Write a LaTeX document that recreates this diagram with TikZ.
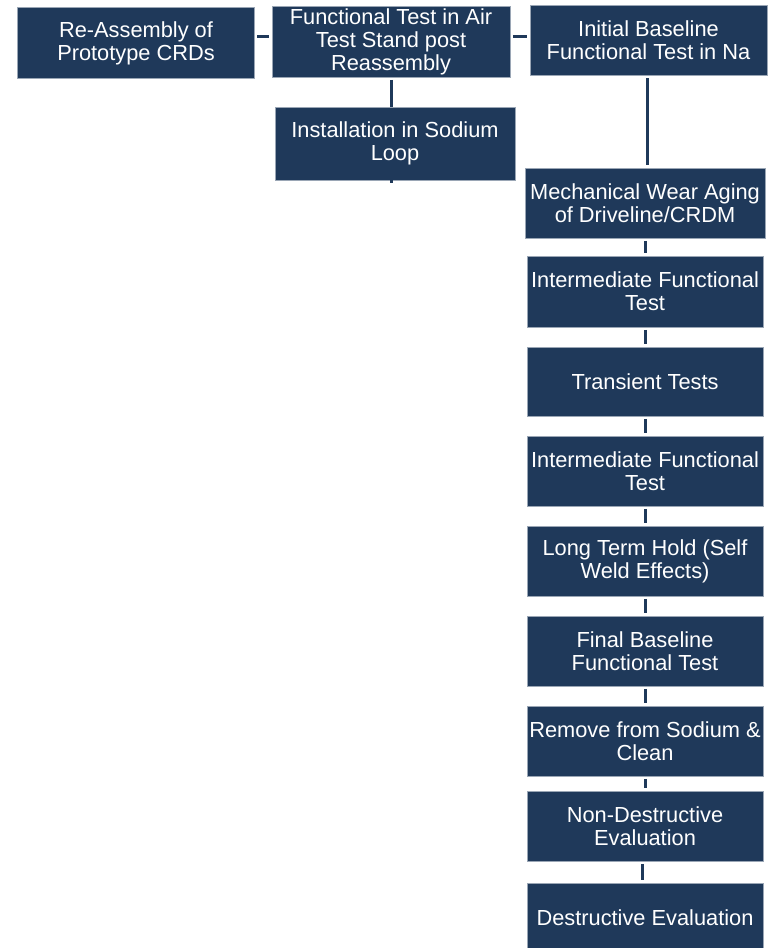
\documentclass[tikz,border=0pt]{standalone}
\usepackage{fontspec}
\setmainfont{Liberation Sans}
\usepackage{tikz}
\usetikzlibrary{calc}
\definecolor{navy1} {RGB} {31, 57, 90}
\tikzstyle{crd}=[
  x=1pt, y=-1pt, font=\fontsize{21.8}{23}\selectfont
]
\tikzstyle{crdstep}=[
  fill=navy1, draw=navy1!45!white, line width=0.6pt, text=white, align=center,
  inner sep=0pt, minimum width=236pt, minimum height=70pt
]
\tikzstyle{crdedge}=[
  draw=navy1, line width=3pt, shorten >=2.5pt, shorten <=2.5pt
]

\begin{document}
\begin{tikzpicture}[crd]
    \useasboundingbox (0,0) rectangle (772,948);
    \clip (0,0) rectangle (772,948);
    \node (reasm) [crdstep, minimum width=237pt, minimum height=71pt] at (136, 43) {Re-Assembly of\\Prototype CRDs};
    \node (airtest) [crdstep, minimum width=238pt, minimum height=71pt] at (391, 41.5) {Functional Test in Air\\Test Stand post\\Reassembly};
    \node (baseline) [crdstep, minimum width=237pt] at (648.5, 40.5) {Initial Baseline\\Functional Test in Na};
    \node (install) [crdstep, minimum width=240pt, minimum height=73pt] at (395, 143.5) {Installation in Sodium\\Loop};
    \node (wear) [crdstep, minimum width=240pt] at (645, 203) {Mechanical Wear Aging\\of Driveline/CRDM};
    \node (interA) [crdstep, minimum height=71pt] at (645, 291.5) {Intermediate Functional\\Test};
    \node (transient) [crdstep, minimum height=69pt] at (645, 381.5) {Transient Tests};
    \node (interB) [crdstep] at (645, 471) {Intermediate Functional\\Test};
    \node (hold) [crdstep] at (645, 561) {Long Term Hold (Self\\Weld Effects)};
    \node (final) [crdstep] at (645, 651) {Final Baseline\\Functional Test};
    \node (remove) [crdstep] at (645, 741) {Remove from Sodium \&\\Clean};
    \node (nde) [crdstep] at (645, 826) {Non-Destructive\\Evaluation};
    \node (de) [crdstep] at (645, 918) {Destructive Evaluation};
    \coordinate (installtail) at ($(install.south) + (-4, 3)$);
    \draw [crdedge] ([yshift=7pt]reasm.east) -- ([yshift=5.5pt]airtest.west);
    \draw [crdedge] ([yshift=5.5pt]airtest.east) -- ([yshift=4.5pt]baseline.west);
    \draw [crdedge, shorten >=0pt] (airtest.south) -- (airtest.south |- install.north);
    \draw [crdedge, shorten <=0pt, shorten >=0pt] ([xshift=-4pt]install.south) -- (installtail);
    \draw [crdedge] ([xshift=-1.5pt]baseline.south) -- ([xshift=-1.5pt]baseline.south |- wear.north);
    \draw [crdedge] (wear.south) -- (interA.north);
    \draw [crdedge] (interA.south) -- (transient.north);
    \draw [crdedge] (transient.south) -- (interB.north);
    \draw [crdedge] (interB.south) -- (hold.north);
    \draw [crdedge] (hold.south) -- (final.north);
    \draw [crdedge] (final.south) -- (remove.north);
    \draw [crdedge] (remove.south) -- (nde.north);
    \draw [crdedge] ([xshift=-3pt]nde.south) -- ([xshift=-3pt]de.north);
\end{tikzpicture}
\end{document}
